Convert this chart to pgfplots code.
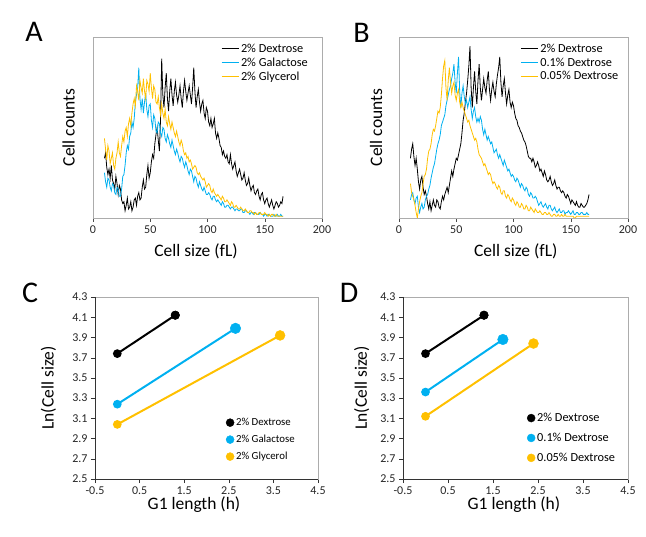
\documentclass[border=0pt]{standalone}
\usepackage{fontspec}
\setmainfont{Carlito}
\usepackage{pgfplots}
\usepackage{pgfplotstable}
\pgfplotsset{compat=1.18}
\definecolor{cBlue}{HTML}{00B0F0}
\definecolor{cGold}{HTML}{FFC000}

% histogram A: x, 2% dextrose, 2% galactose, 2% glycerol
\pgfplotstableread{
x dex gal gly
10 33 25 44
11 36 20 38
12 28 17 32
13 24 22 40
14 27 21 37
15 22 17 30
16 29 15 33
17 21 19 36
18 19 18 29
19 16 14 27
20 23 13 33
21 19 17 36
22 13 16 42
23 18 12 36
24 16 12 34
25 10 16 40
26 8 23 45
27 9 24 42
28 4 29 48
29 7 36 50
30 11 40 45
31 5 38 52
32 6 45 55
33 9 47 51
34 4 53 58
35 6 50 63
36 10 55 66
37 11 64 62
38 7 68 73
39 12 72 70
40 14 83 65
41 10 66 76
42 11 60 72
43 17 66 69
44 21 58 77
45 16 64 70
46 17 69 66
47 24 60 76
48 29 56 74
49 22 62 70
50 25 63 80
51 31 54 72
52 35 50 66
53 33 57 73
54 41 55 71
55 46 48 64
56 50 47 63
57 43 53 67
58 37 52 61
59 55 47 57
60 88 45 63
61 68 50 58
62 61 49 55
63 72 44 60
64 80 42 53
65 66 46 51
66 59 44 56
67 70 41 52
68 77 39 49
69 68 43 53
70 62 40 50
71 70 37 47
72 75 35 45
73 68 38 48
74 64 36 45
75 68 33 42
76 73 31 40
77 66 34 43
78 61 33 41
79 70 30 37
80 76 28 35
81 70 31 36
82 65 29 33
83 69 26 34
84 73 24 31
85 68 27 32
86 63 26 30
87 72 23 27
88 83 20 28
89 70 23 29
90 61 22 28
91 67 19 25
92 71 17 24
93 64 20 25
94 59 18 23
95 63 16 22
96 65 15 21
97 58 17 22
98 55 15 20
99 61 13 17
100 59 13 18
101 53 14 19
102 51 13 18
103 55 11 15
104 50 10 14
105 52 12 16
106 55 12 14
107 47 10 13
108 44 9 12
109 47 10 13
110 44 9 12
111 40 8 11
112 39 7 10
113 35 9 12
114 37 8 11
115 34 6 9
116 33 6 9
117 35 7 10
118 31 7 9
119 30 6 8
120 35 5 7
121 30 6 9
122 27 6 8
123 29 5 6
124 31 4 6
125 26 5 7
126 23 5 6
127 25 4 5
128 27 4 5
129 24 5 6
130 21 5 5
131 22 3 4
132 25 3 4
133 21 4 5
134 18 4 4
135 19 3 3
136 22 3 3
137 18 2 4
138 15 3 4
139 17 3 3
140 18 2 3
141 14 3 2
142 13 3 3
143 15 2 2
144 16 2 2
145 12 2 3
146 10 3 3
147 13 2 2
148 14 2 2
149 10 1 2
150 8 2 3
151 10 2 2
152 11 1 2
153 8 2 1
154 6 2 2
155 8 1 1
156 10 1 2
157 7 1 2
158 5 2 1
159 7 1 1
160 9 1 2
161 8 2 1
162 6 1 1
163 7 1 1
164 9 2 1
165 8 1 1
166 12 1 1
}\histA

% histogram B: x, 2% dextrose, 0.1% dextrose, 0.05% dextrose
\pgfplotstableread{
x dex p1 p05
10 33 10 19
11 38 13 14
12 41 14 12
13 34 10 10
14 29 8 7
15 33 11 3
16 27 12 0
17 20 6 5
18 16 3 9
19 21 6 12
20 23 8 14
21 17 5 19
22 13 6 23
23 15 10 24
24 12 12 27
25 8 13 33
26 5 16 37
27 9 18 38
28 4 22 41
29 7 25 46
30 10 28 49
31 7 30 48
32 6 34 51
33 10 38 55
34 9 41 59
35 6 43 58
36 5 46 61
37 9 51 68
38 12 53 77
39 10 55 84
40 13 57 87
41 15 62 72
42 17 65 65
43 14 68 76
44 18 71 83
45 22 73 75
46 26 77 69
47 23 80 73
48 27 85 75
49 30 75 68
50 33 69 65
51 32 80 69
52 35 89 71
53 38 70 64
54 41 61 61
55 47 69 64
56 54 73 61
57 58 67 59
58 64 63 57
59 69 65 55
60 76 61 53
61 84 64 54
62 95 67 51
63 72 60 49
64 61 55 47
65 72 59 45
66 81 61 43
67 70 56 44
68 63 53 42
69 76 55 38
70 85 53 35
71 72 56 34
72 65 54 33
73 71 49 31
74 77 46 29
75 72 49 30
76 69 46 28
77 76 43 26
78 81 45 24
79 71 43 25
80 65 41 24
81 71 42 21
82 75 39 19
83 70 36 20
84 67 37 19
85 74 38 17
86 79 35 16
87 83 33 18
88 89 35 17
89 75 33 14
90 67 31 13
91 73 29 15
92 77 32 15
93 69 30 12
94 63 28 11
95 68 26 13
96 71 27 12
97 64 25 10
98 61 23 9
99 64 24 11
100 62 23 10
101 58 21 8
102 55 20 7
103 54 22 9
104 51 21 8
105 50 19 6
106 48 17 6
107 47 19 8
108 45 18 7
109 43 16 5
110 42 15 5
111 40 17 7
112 37 16 6
113 34 13 4
114 33 12 4
115 33 14 6
116 31 13 5
117 33 11 4
118 31 11 3
119 28 12 5
120 29 11 4
121 31 9 3
122 29 7 3
123 26 8 4
124 27 9 3
125 25 7 2
126 23 6 2
127 26 7 3
128 24 8 3
129 21 6 2
130 20 5 2
131 21 7 3
132 23 7 2
133 20 5 1
134 18 4 1
135 19 5 2
136 21 6 2
137 18 4 1
138 16 3 1
139 17 4 2
140 17 5 1
141 15 3 1
142 14 3 2
143 15 4 1
144 14 4 1
145 12 2 2
146 11 3 1
147 13 3 1
148 12 4 1
149 10 3 1
150 8 2 1
151 10 3 1
152 9 4 1
153 8 2 0
154 7 2 0
155 9 3 1
156 7 3 1
157 6 2 1
158 6 2 1
159 8 3 1
160 7 3 1
161 6 2 1
162 6 2 1
163 7 2 1
164 8 3 1
165 10 2 1
166 13 2 1
}\histB

\pgfplotsset{
  base/.style={
    scale only axis,
    axis line style={gray!65},
    tick align=outside, major tick length=4pt,
    major tick style={gray!60!black},
    tick label style={font=\fontsize{12}{14}\selectfont, text=black!85},
    label style={font=\fontsize{17.5}{20}\selectfont},
    xtick pos=left, ytick pos=left,
  },
  hist/.style={base,
    width=229pt, height=181pt,
    xmin=0, xmax=200, ymin=0, ymax=100,
    xtick={0,50,100,150,200}, xticklabels={0,50,100,150,200},
    ytick=\empty,
    xlabel={Cell size (fL)}, ylabel={Cell counts},
    every axis plot/.append style={line width=0.8pt},
    legend style={draw=none, fill=none, font=\fontsize{12.3}{14}\selectfont,
      anchor=north west, inner sep=0pt, row sep=0pt},
    legend cell align=left,
    legend image code/.code={\draw[#1] (0pt,0pt) -- (17pt,0pt);},
  },
  lin/.style={base,
    height=182pt,
    xmin=-0.5, xmax=4.5, ymin=2.5, ymax=4.3,
    xtick={-0.5,0.5,1.5,2.5,3.5,4.5},
    xticklabels={-0.5,0.5,1.5,2.5,3.5,4.5},
    ytick={2.5,2.7,2.9,3.1,3.3,3.5,3.7,3.9,4.1,4.3},
    yticklabels={2.5,2.7,2.9,3.1,3.3,3.5,3.7,3.9,4.1,4.3},
    major tick style={black!80},
    xlabel={G1 length (h)}, ylabel={Ln(Cell size)},
    clip=false,
    legend style={draw=none, fill=none,
      anchor=north west, inner sep=0pt},
    legend cell align=left,
    after end axis/.code={\draw[black!80] (rel axis cs:0,1) -- (rel axis cs:0,0) -- (rel axis cs:1,0);},
  },
}

\begin{document}
\begin{tikzpicture}
\path (0pt,0pt) rectangle (646pt,-537pt);

% A
\begin{axis}[hist, at={(93pt,-218pt)}, anchor=south west,
  xlabel style={at={(axis description cs:0.45,-0.186)}, anchor=center},
  ylabel style={at={(axis description cs:-0.107,0.5)}, anchor=center},
  legend style={at={(axis description cs:0.559,0.975)}}]
\addplot[black] table[x=x, y=dex] {\histA};
\addplot[cBlue] table[x=x, y=gal] {\histA};
\addplot[cGold] table[x=x, y=gly] {\histA};
\legend{2\% Dextrose, 2\% Galactose, 2\% Glycerol}
\end{axis}

% B
\begin{axis}[hist, at={(399pt,-218pt)}, anchor=south west,
  xlabel style={at={(axis description cs:0.51,-0.186)}, anchor=center},
  ylabel style={at={(axis description cs:-0.100,0.5)}, anchor=center},
  legend style={at={(axis description cs:0.53,0.975)}}]
\addplot[black] table[x=x, y=dex] {\histB};
\addplot[cBlue] table[x=x, y=p1] {\histB};
\addplot[cGold] table[x=x, y=p05] {\histB};
\legend{2\% Dextrose, 0.1\% Dextrose, 0.05\% Dextrose}
\end{axis}

% C
\begin{axis}[lin, width=223pt, at={(95pt,-479pt)}, anchor=south west,
  xlabel style={at={(axis description cs:0.444,-0.143)}, anchor=center},
  ylabel style={at={(axis description cs:-0.209,0.5)}, anchor=center},
  legend style={at={(axis description cs:0.587,0.346)}, row sep=4pt,
    font=\fontsize{10.8}{13}\selectfont}]
\addlegendimage{only marks, mark=*, mark size=4pt, black}
\addlegendimage{only marks, mark=*, mark size=4pt, cBlue}
\addlegendimage{only marks, mark=*, mark size=4pt, cGold}
\addplot[black, line width=2pt, mark=*, mark size=3.3pt, forget plot] coordinates {(0,3.74) (1.3,4.12)};
\addplot[cBlue, line width=2pt, mark=*, mark size=3.3pt, forget plot] coordinates {(0,3.24) (2.65,3.99)};
\addplot[cGold, line width=2pt, mark=*, mark size=3.3pt, forget plot] coordinates {(0,3.04) (3.65,3.92)};
\addplot[black, only marks, mark=*, mark size=4.3pt, forget plot] coordinates {(1.3,4.12)};
\addplot[cBlue, only marks, mark=*, mark size=5.3pt, forget plot] coordinates {(2.65,3.99)};
\addplot[cGold, only marks, mark=*, mark size=5pt, forget plot] coordinates {(3.65,3.92)};
\legend{2\% Dextrose, 2\% Galactose, 2\% Glycerol}
\end{axis}

% D
\begin{axis}[lin, width=225pt, at={(403pt,-479pt)}, anchor=south west,
  xlabel style={at={(axis description cs:0.493,-0.143)}, anchor=center},
  ylabel style={at={(axis description cs:-0.184,0.5)}, anchor=center},
  legend style={at={(axis description cs:0.551,0.374)}, row sep=6pt,
    font=\fontsize{12.3}{14}\selectfont}]
\addlegendimage{only marks, mark=*, mark size=4pt, black}
\addlegendimage{only marks, mark=*, mark size=4pt, cBlue}
\addlegendimage{only marks, mark=*, mark size=4pt, cGold}
\addplot[black, line width=2pt, mark=*, mark size=3.3pt, forget plot] coordinates {(0,3.74) (1.3,4.12)};
\addplot[cBlue, line width=2pt, mark=*, mark size=3.3pt, forget plot] coordinates {(0,3.36) (1.72,3.88)};
\addplot[cGold, line width=2pt, mark=*, mark size=3.3pt, forget plot] coordinates {(0,3.12) (2.4,3.84)};
\addplot[black, only marks, mark=*, mark size=4.3pt, forget plot] coordinates {(1.3,4.12)};
\addplot[cBlue, only marks, mark=*, mark size=5.3pt, forget plot] coordinates {(1.72,3.88)};
\addplot[cGold, only marks, mark=*, mark size=5pt, forget plot] coordinates {(2.4,3.84)};
\legend{2\% Dextrose, 0.1\% Dextrose, 0.05\% Dextrose}
\end{axis}

\node[font=\fontsize{30}{30}\selectfont] at (34pt,-32pt) {A};
\node[font=\fontsize{30}{30}\selectfont] at (361.5pt,-32.5pt) {B};
\node[font=\fontsize{30}{30}\selectfont] at (30pt,-293pt) {C};
\node[font=\fontsize{30}{30}\selectfont] at (349pt,-292.5pt) {D};
\end{tikzpicture}
\end{document}
